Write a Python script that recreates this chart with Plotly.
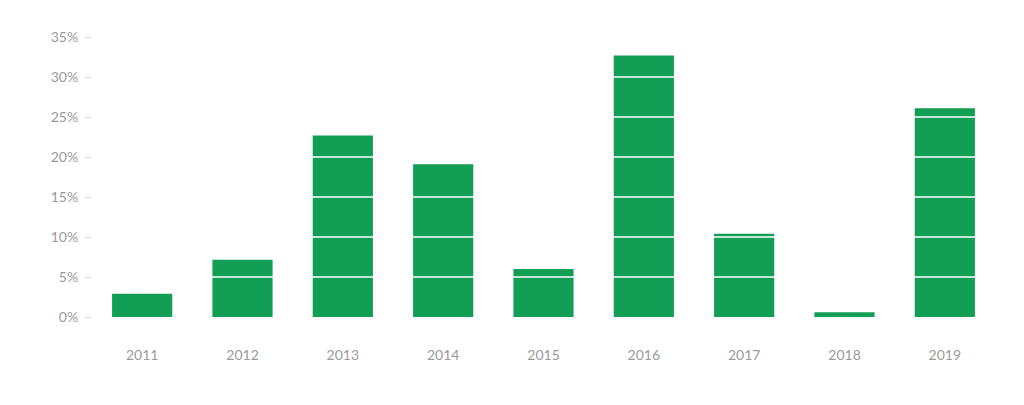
import plotly.graph_objects as go

years = ["2011", "2012", "2013", "2014", "2015", "2016", "2017", "2018", "2019"]
values = [2.9, 7.15, 22.7, 19.1, 6.0, 32.7, 10.4, 0.6, 26.1]
tick_vals = [0, 5, 10, 15, 20, 25, 30, 35]
tick_text = ["0%", "5%", "10%", "15%", "20%", "25%", "30%", "35%"]

bar_color = "#139E55"

fig = go.Figure(go.Bar(x=years, y=values, marker=dict(color=bar_color, line=dict(width=0)),
                       hoverinfo="x+y"))

shapes = []
for v in tick_vals[1:]:
    shapes.append(dict(type="line", xref="paper", yref="y", x0=0, x1=1, y0=v, y1=v,
                       line=dict(color="white", width=1.6), layer="above"))

fig.update_layout(
    width=1024, height=405,
    margin=dict(l=84, r=37, t=29, b=96),
    paper_bgcolor="white", plot_bgcolor="white",
    bargap=0.4,
    showlegend=False,
    shapes=shapes,
    font=dict(family="Lato, sans-serif", color="#9a9a9a", size=14),
    xaxis=dict(showgrid=False, showline=False, zeroline=False, ticks="",
               ticklabelstandoff=28, tickfont=dict(size=14, color="#9a9a9a")),
    yaxis=dict(range=[0, 35], tickvals=tick_vals, ticktext=tick_text,
               showgrid=False, zeroline=False, showline=False,
               ticks="outside", ticklen=6, tickwidth=1, tickcolor="#dcdcdc",
               ticklabelstandoff=4,
               tickfont=dict(size=14, color="#9a9a9a")),
)

fig.write_html("out.html")
